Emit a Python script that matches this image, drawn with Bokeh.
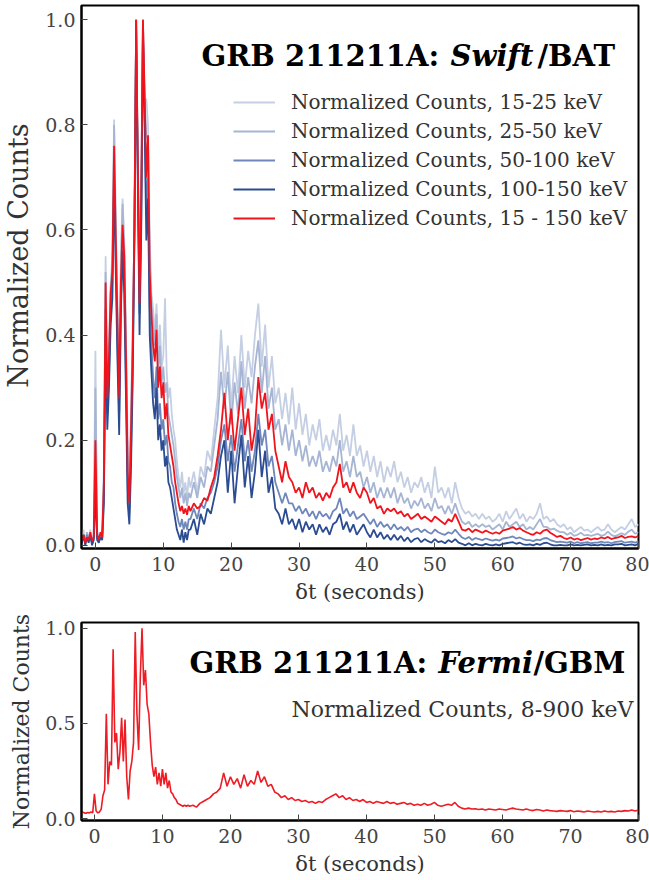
import numpy as np
from bokeh.plotting import figure
from bokeh.layouts import column
from bokeh.models import (Label, Legend, LegendItem, Range1d, FixedTicker,
                          PrintfTickFormatter)
from bokeh.embed import file_html
from bokeh.resources import INLINE

# ---------------- time grids (seconds) ----------------
t_early = np.arange(-2.0, 14.0, 0.25)      # 64 samples, -2 .. 13.75
t_late = np.arange(14.0, 80.001, 0.5)      # 133 samples, 14 .. 80

x_ticks = [0, 10, 20, 30, 40, 50, 60, 70, 80]
y_ticks_top = [0.0, 0.2, 0.4, 0.6, 0.8, 1.0]
y_ticks_bottom = [0.0, 0.5, 1.0]

# ---------------- Swift/BAT, 15-25 keV ----------------
bat_15_25_early = [
    0.01, 0.03, 0.0, 0.02, 0.015, 0.03, 0.005, 0.02,
    0.37, 0.03, 0.01, 0.02, 0.03, 0.15, 0.55, 0.30,
    0.38, 0.50, 0.55, 0.81, 0.62, 0.45, 0.32, 0.55,
    0.66, 0.58, 0.40, 0.20, 0.12, 0.26, 0.42, 0.60,
    0.95, 0.75, 0.50, 0.70, 1.00, 0.84, 0.85, 0.80,
    0.58, 0.48, 0.45, 0.40, 0.46, 0.36, 0.42, 0.34,
    0.36, 0.47, 0.33, 0.28, 0.30, 0.25, 0.22, 0.20,
    0.16, 0.13, 0.11, 0.14, 0.10, 0.12, 0.09, 0.13]
bat_15_25_late = [
    0.11, 0.14, 0.10, 0.15, 0.13, 0.18, 0.16, 0.22, 0.28, 0.41,
    0.30, 0.38, 0.26, 0.36, 0.29, 0.40, 0.30, 0.37, 0.32, 0.40,
    0.46, 0.34, 0.42, 0.30, 0.36, 0.27, 0.30, 0.24, 0.29, 0.23,
    0.30, 0.22, 0.27, 0.21, 0.25, 0.19, 0.23, 0.20, 0.24, 0.18,
    0.21, 0.18, 0.22, 0.19, 0.25, 0.18, 0.21, 0.17, 0.23, 0.17,
    0.19, 0.15, 0.18, 0.14, 0.17, 0.13, 0.16, 0.12, 0.15, 0.13,
    0.16, 0.12, 0.14, 0.11, 0.13, 0.10, 0.12, 0.11, 0.13, 0.10,
    0.12, 0.09, 0.15, 0.10, 0.11, 0.09, 0.11, 0.08, 0.12, 0.09,
    0.07, 0.06, 0.065, 0.055, 0.06, 0.05, 0.06, 0.05, 0.055, 0.045,
    0.05, 0.06, 0.045, 0.065, 0.05, 0.06, 0.07, 0.05, 0.06, 0.045,
    0.055, 0.05, 0.06, 0.08, 0.05, 0.055, 0.045, 0.05, 0.04, 0.035,
    0.04, 0.03, 0.035, 0.025, 0.03, 0.035, 0.028, 0.03, 0.025, 0.03,
    0.035, 0.028, 0.03, 0.04, 0.03, 0.025, 0.03, 0.035, 0.03, 0.04,
    0.05, 0.035, 0.04]

# ---------------- Swift/BAT, 25-50 keV ----------------
bat_25_50_early = [
    0.015, 0.02, 0.005, 0.025, 0.01, 0.02, 0.01, 0.015,
    0.30, 0.025, 0.015, 0.02, 0.02, 0.13, 0.52, 0.29,
    0.37, 0.49, 0.53, 0.80, 0.60, 0.44, 0.30, 0.52,
    0.65, 0.56, 0.38, 0.17, 0.10, 0.24, 0.40, 0.61,
    1.00, 0.74, 0.48, 0.68, 0.98, 0.85, 0.78, 0.77,
    0.55, 0.46, 0.42, 0.38, 0.44, 0.33, 0.38, 0.31,
    0.34, 0.29, 0.31, 0.25, 0.23, 0.21, 0.19, 0.16,
    0.13, 0.11, 0.09, 0.11, 0.08, 0.10, 0.075, 0.10]
bat_25_50_late = [
    0.09, 0.12, 0.09, 0.13, 0.11, 0.15, 0.14, 0.19, 0.24, 0.33,
    0.26, 0.33, 0.23, 0.31, 0.25, 0.35, 0.26, 0.32, 0.27, 0.34,
    0.39, 0.29, 0.36, 0.26, 0.30, 0.22, 0.24, 0.19, 0.23, 0.18,
    0.22, 0.17, 0.20, 0.16, 0.19, 0.15, 0.17, 0.15, 0.18, 0.14,
    0.16, 0.14, 0.17, 0.15, 0.20, 0.14, 0.16, 0.13, 0.17, 0.13,
    0.14, 0.11, 0.13, 0.10, 0.12, 0.09, 0.11, 0.09, 0.11, 0.09,
    0.11, 0.08, 0.10, 0.08, 0.09, 0.07, 0.085, 0.075, 0.09, 0.07,
    0.08, 0.065, 0.09, 0.07, 0.075, 0.06, 0.075, 0.06, 0.08, 0.06,
    0.045, 0.04, 0.045, 0.035, 0.04, 0.035, 0.04, 0.035, 0.038, 0.03,
    0.035, 0.04, 0.03, 0.045, 0.035, 0.04, 0.045, 0.035, 0.04, 0.03,
    0.035, 0.03, 0.04, 0.05, 0.035, 0.035, 0.03, 0.032, 0.028, 0.025,
    0.025, 0.02, 0.024, 0.018, 0.02, 0.024, 0.019, 0.02, 0.018, 0.02,
    0.022, 0.018, 0.02, 0.026, 0.02, 0.017, 0.02, 0.023, 0.02, 0.026,
    0.03, 0.022, 0.025]

# ---------------- Swift/BAT, 50-100 keV ----------------
bat_50_100_early = [
    0.01, 0.015, 0.005, 0.02, 0.01, 0.015, 0.005, 0.012,
    0.15, 0.015, 0.01, 0.02, 0.015, 0.10, 0.45, 0.25,
    0.33, 0.45, 0.50, 0.72, 0.55, 0.38, 0.25, 0.46,
    0.58, 0.50, 0.32, 0.11, 0.06, 0.18, 0.35, 0.60,
    0.98, 0.70, 0.44, 0.62, 1.00, 0.82, 0.64, 0.70,
    0.45, 0.38, 0.32, 0.28, 0.34, 0.24, 0.27, 0.22,
    0.24, 0.19, 0.21, 0.16, 0.15, 0.12, 0.11, 0.08,
    0.06, 0.045, 0.035, 0.05, 0.03, 0.045, 0.03, 0.05]
bat_50_100_late = [
    0.05, 0.07, 0.05, 0.08, 0.07, 0.09, 0.10, 0.12, 0.15, 0.20,
    0.23, 0.16, 0.21, 0.14, 0.19, 0.24, 0.16, 0.20, 0.14, 0.18,
    0.25, 0.19, 0.22, 0.15, 0.17, 0.12, 0.10, 0.08, 0.10, 0.08,
    0.08, 0.065, 0.075, 0.06, 0.07, 0.055, 0.065, 0.05, 0.065, 0.055,
    0.06, 0.05, 0.065, 0.07, 0.09, 0.06, 0.07, 0.055, 0.065, 0.05,
    0.055, 0.06, 0.05, 0.04, 0.05, 0.035, 0.045, 0.035, 0.04, 0.03,
    0.04, 0.03, 0.035, 0.028, 0.035, 0.025, 0.03, 0.032, 0.025, 0.03,
    0.025, 0.022, 0.03, 0.025, 0.022, 0.02, 0.025, 0.022, 0.03, 0.022,
    0.015, 0.012, 0.016, 0.01, 0.014, 0.012, 0.01, 0.013, 0.011, 0.009,
    0.011, 0.009, 0.013, 0.014, 0.015, 0.017, 0.013, 0.015, 0.012, 0.01,
    0.01, 0.008, 0.011, 0.01, 0.013, 0.014, 0.01, 0.008, 0.006, 0.007,
    0.006, 0.005, 0.007, 0.004, 0.006, 0.004, 0.005, 0.006, 0.004, 0.005,
    0.005, 0.007, 0.005, 0.006, 0.004, 0.006, 0.007, 0.008, 0.005, 0.006,
    0.007, 0.005, 0.008]

# ---------------- Swift/BAT, 100-150 keV ----------------
bat_100_150_early = [
    0.005, 0.02, 0.0, 0.015, 0.005, 0.02, 0.0, 0.01,
    0.10, 0.01, 0.005, 0.015, 0.01, 0.08, 0.40, 0.22,
    0.30, 0.42, 0.47, 0.70, 0.52, 0.35, 0.21, 0.44,
    0.56, 0.48, 0.28, 0.08, 0.04, 0.15, 0.32, 0.58,
    1.00, 0.68, 0.40, 0.60, 0.97, 0.80, 0.58, 0.66,
    0.40, 0.33, 0.27, 0.24, 0.30, 0.20, 0.23, 0.18,
    0.20, 0.15, 0.17, 0.12, 0.11, 0.09, 0.07, 0.05,
    0.03, 0.02, 0.01, 0.03, 0.005, 0.025, 0.01, 0.03]
bat_100_150_late = [
    0.03, 0.05, 0.02, 0.06, 0.04, 0.07, 0.06, 0.09, 0.12, 0.17,
    0.20, 0.10, 0.18, 0.08, 0.15, 0.21, 0.11, 0.17, 0.09, 0.14,
    0.22, 0.13, 0.18, 0.10, 0.13, 0.07, 0.06, 0.04, 0.07, 0.04,
    0.05, 0.03, 0.05, 0.025, 0.045, 0.03, 0.04, 0.02, 0.04, 0.025,
    0.035, 0.02, 0.04, 0.045, 0.06, 0.03, 0.045, 0.025, 0.04, 0.02,
    0.03, 0.04, 0.025, 0.015, 0.03, 0.015, 0.025, 0.012, 0.02, 0.01,
    0.02, 0.01, 0.018, 0.008, 0.015, 0.006, 0.012, 0.014, 0.006, 0.012,
    0.008, 0.005, 0.012, 0.006, 0.008, 0.004, 0.01, 0.006, 0.012, 0.005,
    0.003, 0.0, 0.004, 0.0, 0.003, 0.001, 0.0, 0.003, 0.001, 0.0,
    0.002, 0.0, 0.003, 0.004, 0.005, 0.006, 0.003, 0.005, 0.002, 0.001,
    0.002, 0.0, 0.003, 0.001, 0.004, 0.005, 0.002, 0.0, 0.0, 0.001,
    0.0, 0.0, 0.002, 0.0, 0.001, 0.0, 0.001, 0.002, 0.0, 0.001,
    0.0, 0.002, 0.0, 0.001, 0.0, 0.002, 0.002, 0.003, 0.0, 0.001,
    0.002, 0.0, 0.003]

# ---------------- Swift/BAT, 15-150 keV (red) ----------------
bat_15_150_early = [
    0.01, 0.02, 0.005, 0.015, 0.01, 0.025, 0.008, 0.015,
    0.20, 0.02, 0.01, 0.025, 0.015, 0.12, 0.50, 0.28,
    0.36, 0.48, 0.52, 0.76, 0.58, 0.42, 0.28, 0.50,
    0.61, 0.55, 0.36, 0.14, 0.08, 0.22, 0.38, 0.62,
    1.00, 0.72, 0.46, 0.66, 1.00, 0.86, 0.70, 0.78,
    0.52, 0.44, 0.38, 0.35, 0.41, 0.30, 0.34, 0.28,
    0.31, 0.24, 0.27, 0.21, 0.19, 0.17, 0.15, 0.12,
    0.10, 0.08, 0.065, 0.075, 0.06, 0.07, 0.058, 0.075]
bat_15_150_late = [
    0.065, 0.08, 0.07, 0.075, 0.09, 0.085, 0.11, 0.13, 0.17, 0.22,
    0.29, 0.20, 0.26, 0.18, 0.24, 0.30, 0.21, 0.26, 0.18, 0.22,
    0.32, 0.26, 0.29, 0.22, 0.25, 0.18, 0.15, 0.12, 0.16, 0.13,
    0.12, 0.10, 0.11, 0.09, 0.12, 0.10, 0.11, 0.09, 0.10, 0.085,
    0.10, 0.09, 0.11, 0.12, 0.155, 0.11, 0.12, 0.10, 0.12, 0.10,
    0.09, 0.11, 0.10, 0.08, 0.09, 0.07, 0.075, 0.06, 0.07, 0.065,
    0.07, 0.06, 0.065, 0.055, 0.06, 0.05, 0.055, 0.06, 0.05, 0.055,
    0.05, 0.045, 0.055, 0.05, 0.045, 0.04, 0.05, 0.045, 0.06, 0.045,
    0.03, 0.028, 0.032, 0.025, 0.03, 0.027, 0.024, 0.028, 0.025, 0.022,
    0.025, 0.022, 0.028, 0.03, 0.032, 0.035, 0.03, 0.033, 0.028, 0.025,
    0.022, 0.02, 0.025, 0.022, 0.028, 0.03, 0.024, 0.02, 0.016, 0.018,
    0.014, 0.012, 0.015, 0.011, 0.013, 0.01, 0.012, 0.014, 0.011, 0.013,
    0.012, 0.015, 0.013, 0.016, 0.012, 0.014, 0.015, 0.018, 0.014, 0.016,
    0.017, 0.015, 0.018]

# ---------------- Fermi/GBM, 8-900 keV ----------------
gbm_8_900_early = [
    0.03, 0.035, 0.03, 0.028, 0.032, 0.03, 0.035, 0.03,
    0.13, 0.04, 0.03, 0.035, 0.05, 0.12, 0.15, 0.55,
    0.18, 0.30, 0.28, 0.89, 0.40, 0.45, 0.26, 0.35,
    0.53, 0.30, 0.52, 0.22, 0.10, 0.25, 0.30, 0.40,
    0.98, 0.55, 0.36, 0.75, 1.00, 0.70, 0.78, 0.60,
    0.55, 0.40, 0.28, 0.22, 0.27, 0.18, 0.24, 0.17,
    0.26, 0.18, 0.24, 0.16, 0.20, 0.14, 0.13, 0.11,
    0.10, 0.08, 0.075, 0.07, 0.065, 0.07, 0.065, 0.07]
gbm_8_900_late = [
    0.065, 0.07, 0.06, 0.08, 0.09, 0.10, 0.11, 0.13, 0.14, 0.16,
    0.24, 0.17, 0.22, 0.18, 0.21, 0.16, 0.23, 0.17, 0.20, 0.18,
    0.25, 0.19, 0.22, 0.17, 0.18, 0.14, 0.13, 0.11, 0.12, 0.10,
    0.11, 0.095, 0.10, 0.09, 0.095, 0.085, 0.09, 0.08, 0.09, 0.085,
    0.10, 0.11, 0.12, 0.13, 0.11, 0.12, 0.10, 0.11, 0.095, 0.10,
    0.09, 0.10, 0.085, 0.09, 0.08, 0.09, 0.085, 0.08, 0.09, 0.08,
    0.085, 0.075, 0.08, 0.085, 0.075, 0.08, 0.07, 0.075, 0.07, 0.08,
    0.07, 0.075, 0.085, 0.07, 0.065, 0.07, 0.075, 0.07, 0.085, 0.065,
    0.055, 0.05, 0.055, 0.05, 0.052, 0.048, 0.05, 0.045, 0.05, 0.048,
    0.045, 0.05, 0.048, 0.045, 0.05, 0.055, 0.05, 0.048, 0.045, 0.05,
    0.045, 0.042, 0.048, 0.045, 0.04, 0.045, 0.042, 0.04, 0.038, 0.042,
    0.04, 0.038, 0.042, 0.036, 0.04, 0.038, 0.035, 0.04, 0.037, 0.035,
    0.038, 0.035, 0.04, 0.036, 0.038, 0.035, 0.04, 0.038, 0.042, 0.04,
    0.045, 0.04, 0.045]

bat_labels = ["Normalized Counts, 15-25 keV", "Normalized Counts, 25-50 keV",
              "Normalized Counts, 50-100 keV", "Normalized Counts, 100-150 keV",
              "Normalized Counts, 15 - 150 keV"]
bat_colors = ["#c5cfe3", "#a6b5d3", "#6f87bb", "#2b4c92", "#f0151d"]

t_all = np.concatenate([t_early, t_late])
bat_series = [
    bat_15_25_early + bat_15_25_late,
    bat_25_50_early + bat_25_50_late,
    bat_50_100_early + bat_50_100_late,
    bat_100_150_early + bat_100_150_late,
    bat_15_150_early + bat_15_150_late,
]
gbm_series = gbm_8_900_early + gbm_8_900_late

SERIF = "DejaVu Serif"
TXT = "#333333"


def style(p, yticks, tick_size):
    p.outline_line_color = "black"
    p.outline_line_width = 2
    p.outline_line_alpha = 1
    p.grid.visible = False
    p.background_fill_color = "white"
    p.border_fill_color = "white"
    for ax in (p.xaxis[0], p.yaxis[0]):
        ax.axis_line_color = "black"
        ax.axis_line_width = 2
        ax.major_tick_in = 6
        ax.major_tick_out = 0
        ax.major_tick_line_color = "#444444"
        ax.minor_tick_line_color = None
        ax.major_label_text_font = SERIF
        ax.major_label_text_font_size = tick_size
        ax.major_label_text_color = "#444444"
        ax.axis_label_text_font = SERIF
        ax.axis_label_text_font_style = "normal"
        ax.axis_label_text_color = TXT
    p.xaxis[0].ticker = FixedTicker(ticks=x_ticks)
    p.yaxis[0].ticker = FixedTicker(ticks=yticks)
    p.yaxis[0].formatter = PrintfTickFormatter(format="%.1f")
    p.xaxis[0].axis_label = "\u03b4t (seconds)"
    p.xaxis[0].axis_label_text_font_size = "21px"
    p.xaxis[0].major_label_standoff = 8
    p.yaxis[0].major_label_standoff = 6
    p.xaxis[0].axis_label_standoff = 6
    p.yaxis[0].axis_label_standoff = 8


def add_title(p, pieces, y, size="29px"):
    for txt, xs, st in pieces:
        p.add_layout(Label(x=xs, y=y, x_units="screen", y_units="screen", text=txt,
                           text_font=SERIF, text_font_style=st, text_font_size=size,
                           text_color="black", text_baseline="alphabetic"))


# ---------------- top panel ----------------
p1 = figure(width=649, height=610, output_backend="svg", toolbar_location=None,
            x_range=Range1d(-2.05, 80), y_range=Range1d(-0.006, 1.027),
            min_border_left=78, min_border_right=9, min_border_top=5,
            min_border_bottom=62)
style(p1, y_ticks_top, "19px")
# the label in the reference sits a little above the frame's centre
p1.yaxis[0].axis_label = "\u00a0" * 5 + "Normalized Counts"
p1.yaxis[0].axis_label_text_font_size = "27px"

items = []
for ys, lab, col in zip(bat_series, bat_labels, bat_colors):
    r = p1.line(t_all, ys, line_color=col, line_width=1.8)
    items.append(LegendItem(label=lab, renderers=[r]))

legend = Legend(items=items, location=(152, 318), padding=0, margin=0,
                border_line_color=None, background_fill_alpha=0,
                label_text_font=SERIF, label_text_font_size="20px",
                label_text_color=TXT, glyph_width=42, glyph_height=24,
                label_height=24, label_standoff=16, spacing=5)
p1.add_layout(legend)

add_title(p1, [("GRB 211211A: ", 120, "bold"), ("Swift", 369, "bold italic"),
               ("/BAT", 456, "bold")], 493)

# ---------------- bottom panel ----------------
p2 = figure(width=649, height=268, output_backend="svg", toolbar_location=None,
            x_range=Range1d(-1.9, 80), y_range=Range1d(-0.01, 1.03),
            min_border_left=75, min_border_right=11, min_border_top=12,
            min_border_bottom=50)
style(p2, y_ticks_bottom, "19px")
p2.yaxis[0].axis_label = "Normalized Counts"
p2.yaxis[0].axis_label_text_font_size = "22px"
p2.line(t_all, gbm_series, line_color="#ee1c24", line_width=1.6)

add_title(p2, [("GRB 211211A: ", 108, "bold"), ("Fermi", 357, "bold italic"),
               ("/GBM", 452, "bold")], 158)
p2.add_layout(Label(x=552, y=111, x_units="screen", y_units="screen",
                    text="Normalized Counts, 8-900 keV", text_align="right",
                    text_font=SERIF, text_font_size="22px", text_color=TXT,
                    text_baseline="alphabetic"))

layout = column(p1, p2, spacing=0)
open("out.html", "w").write(file_html(layout, INLINE))
